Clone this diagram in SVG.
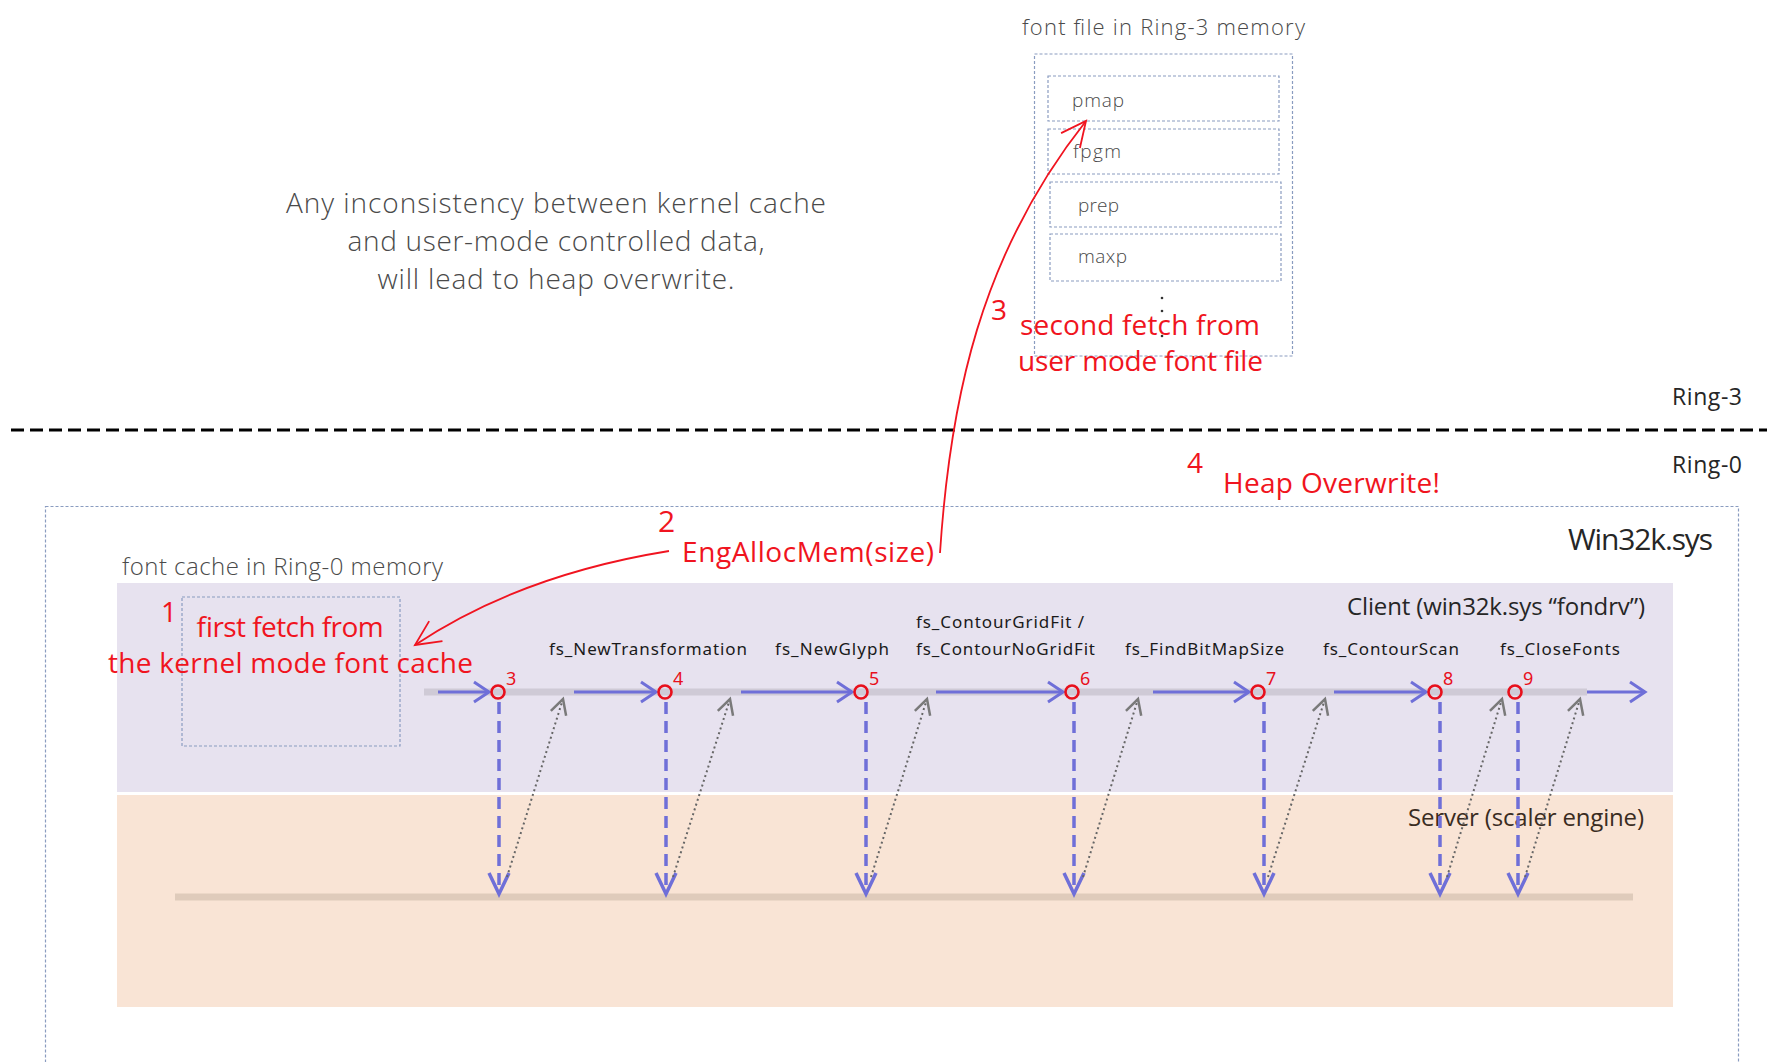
<svg xmlns="http://www.w3.org/2000/svg" width="1767" height="1062" viewBox="0 0 1767 1062">
<defs>
<style>
.box{fill:none;stroke:#8a9cc0;stroke-width:1.2;stroke-dasharray:3 2}
.gray{font-family:"Open Sans","Noto Sans",sans-serif;font-weight:300;fill:#4a4a4a}
.dark{font-family:"Open Sans","Noto Sans",sans-serif;font-weight:400;fill:#262626}
.red{font-family:"Open Sans","Noto Sans",sans-serif;fill:#f01420}
.fs{font-family:"Noto Sans","Open Sans",sans-serif;font-size:17px;fill:#1a1a1a}
.num{font-family:"Noto Sans","Open Sans",sans-serif;font-size:18px;fill:#e8101c}
.tl{stroke:#6f6fd8;stroke-width:3;fill:none}
.vd{stroke:#6f6fd8;stroke-width:3.5;stroke-dasharray:12 7;fill:none}
.dot{stroke:#666;stroke-width:2;stroke-dasharray:2 3;fill:none}
.node{fill:none;stroke:#e8101c;stroke-width:2.6}
.redline{stroke:#f01420;stroke-width:1.8;fill:none}
</style>
<marker id="ab" markerUnits="userSpaceOnUse" markerWidth="30" markerHeight="30" viewBox="-20 -15 30 30" refX="0" refY="0" orient="auto">
<path d="M-15 -10 L0 0 L-15 10" fill="none" stroke="#6f6fd8" stroke-width="3"/>
</marker>
<marker id="av" markerUnits="userSpaceOnUse" markerWidth="30" markerHeight="30" viewBox="-25 -15 30 30" refX="0" refY="0" orient="auto">
<path d="M-21 -10 L0 0 L-21 10" fill="none" stroke="#6f6fd8" stroke-width="3.5"/>
</marker>
<marker id="ag" markerUnits="userSpaceOnUse" markerWidth="30" markerHeight="30" viewBox="-20 -15 30 30" refX="0" refY="0" orient="auto">
<path d="M-15 -8 L0 0 L-15 8" fill="none" stroke="#7a7a7a" stroke-width="2.5"/>
</marker>
<marker id="ar" markerUnits="userSpaceOnUse" markerWidth="40" markerHeight="40" viewBox="-32 -20 40 40" refX="0" refY="0" orient="auto">
<path d="M-25 -12 L0 0 L-25 12" fill="none" stroke="#f01420" stroke-width="1.8"/>
</marker>
</defs>

<rect width="1767" height="1062" fill="#fff"/>

<g id="ring3-file">
<text class="gray" x="1022" y="35" font-size="22" textLength="283">font file in Ring-3 memory</text>
<rect class="box" x="1034.5" y="54" width="258" height="302"/>
<g id="pmap"><rect class="box" x="1048" y="76" width="231" height="45"/><text class="gray" x="1072" y="107" font-size="19" textLength="52">pmap</text></g>
<g id="fpgm"><rect class="box" x="1048" y="129" width="231" height="45"/><text class="gray" x="1073" y="158" font-size="19" textLength="48">fpgm</text></g>
<g id="prep"><rect class="box" x="1050" y="182" width="231" height="45"/><text class="gray" x="1078" y="212" font-size="19" textLength="41">prep</text></g>
<g id="maxp"><rect class="box" x="1050" y="234" width="231" height="47"/><text class="gray" x="1078" y="263" font-size="19" textLength="49">maxp</text></g>
<circle cx="1162" cy="298" r="1.3" fill="#333"/>
<circle cx="1162" cy="311" r="1.3" fill="#333"/>
<circle cx="1162" cy="336" r="1.3" fill="#333"/>
</g>

<g id="note">
<text class="gray" x="556" y="213" font-size="28" text-anchor="middle" textLength="540">Any inconsistency between kernel cache</text>
<text class="gray" x="556" y="251" font-size="28" text-anchor="middle" textLength="417">and user-mode controlled data,</text>
<text class="gray" x="556" y="289" font-size="28" text-anchor="middle" textLength="357">will lead to heap overwrite.</text>
</g>

<g id="ring-boundary">
<line x1="11" y1="430" x2="1767" y2="430" stroke="#000" stroke-width="3" stroke-dasharray="13 6"/>
<text class="dark" x="1672" y="405" font-size="23" textLength="70">Ring-3</text>
<text class="dark" x="1672" y="473" font-size="23" textLength="70">Ring-0</text>
</g>

<g id="win32k">
<rect class="box" x="45.5" y="506.5" width="1693" height="600"/>
<text class="dark" x="1568" y="550" font-size="30" textLength="145">Win32k.sys</text>
</g>

<g id="client">
<rect x="117" y="583" width="1556" height="209" fill="#e7e2ef"/>
<text class="dark" x="1347" y="615" font-size="24" textLength="298">Client (win32k.sys “fondrv”)</text>
<line x1="424" y1="692" x2="1587" y2="692" stroke="#cfcad6" stroke-width="7"/>
</g>

<g id="server">
<rect x="117" y="795" width="1556" height="212" fill="#f9e4d5"/>
<text class="dark" x="1408" y="826" font-size="24" style="fill:#3a2c22" textLength="236">Server (scaler engine)</text>
<line x1="175" y1="897" x2="1633" y2="897" stroke="#dfcbbb" stroke-width="7"/>
</g>

<g id="font-cache">
<text class="gray" x="122" y="575" font-size="24" textLength="321">font cache in Ring-0 memory</text>
<rect class="box" x="182" y="597" width="218" height="149"/>
</g>

<g id="labels">
<text class="fs" x="549" y="655" textLength="198">fs_NewTransformation</text>
<text class="fs" x="775" y="655" textLength="114">fs_NewGlyph</text>
<text class="fs" x="916" y="628" textLength="168">fs_ContourGridFit /</text>
<text class="fs" x="916" y="655" textLength="179">fs_ContourNoGridFit</text>
<text class="fs" x="1125" y="655" textLength="159">fs_FindBitMapSize</text>
<text class="fs" x="1323" y="655" textLength="136">fs_ContourScan</text>
<text class="fs" x="1500" y="655" textLength="120">fs_CloseFonts</text>
</g>

<g id="connectors">
<line class="tl" x1="438" y1="692" x2="489" y2="692" marker-end="url(#ab)"/>
<line class="tl" x1="574" y1="692" x2="656" y2="692" marker-end="url(#ab)"/>
<line class="tl" x1="741" y1="692" x2="852" y2="692" marker-end="url(#ab)"/>
<line class="tl" x1="936" y1="692" x2="1063" y2="692" marker-end="url(#ab)"/>
<line class="tl" x1="1153" y1="692" x2="1249" y2="692" marker-end="url(#ab)"/>
<line class="tl" x1="1334" y1="692" x2="1426" y2="692" marker-end="url(#ab)"/>
<line class="tl" x1="1587" y1="692" x2="1645" y2="692" marker-end="url(#ab)"/>

<line class="vd" x1="499" y1="702" x2="499" y2="894" marker-end="url(#av)"/>
<line class="vd" x1="666" y1="702" x2="666" y2="894" marker-end="url(#av)"/>
<line class="vd" x1="866" y1="702" x2="866" y2="894" marker-end="url(#av)"/>
<line class="vd" x1="1074" y1="702" x2="1074" y2="894" marker-end="url(#av)"/>
<line class="vd" x1="1264" y1="702" x2="1264" y2="894" marker-end="url(#av)"/>
<line class="vd" x1="1440" y1="702" x2="1440" y2="894" marker-end="url(#av)"/>
<line class="vd" x1="1518" y1="702" x2="1518" y2="894" marker-end="url(#av)"/>

<line class="dot" x1="507" y1="877" x2="563" y2="699" marker-end="url(#ag)"/>
<line class="dot" x1="673" y1="877" x2="730" y2="699" marker-end="url(#ag)"/>
<line class="dot" x1="871" y1="877" x2="927" y2="699" marker-end="url(#ag)"/>
<line class="dot" x1="1083" y1="877" x2="1138" y2="699" marker-end="url(#ag)"/>
<line class="dot" x1="1268" y1="877" x2="1325" y2="699" marker-end="url(#ag)"/>
<line class="dot" x1="1447" y1="877" x2="1502" y2="699" marker-end="url(#ag)"/>
<line class="dot" x1="1525" y1="877" x2="1580" y2="699" marker-end="url(#ag)"/>

<path class="redline" d="M669 551 Q520 575 415 645" marker-end="url(#ar)"/>
<path class="redline" d="M940 553 C950 400 980 255 1086 121" marker-end="url(#ar)"/>
</g>

<g id="nodes">
<g id="n3"><circle class="node" cx="498" cy="692" r="6.5"/><text class="num" x="506" y="685">3</text></g>
<g id="n4"><circle class="node" cx="665" cy="692" r="6.5"/><text class="num" x="673" y="685">4</text></g>
<g id="n5"><circle class="node" cx="861" cy="692" r="6.5"/><text class="num" x="869" y="685">5</text></g>
<g id="n6"><circle class="node" cx="1072" cy="692" r="6.5"/><text class="num" x="1080" y="685">6</text></g>
<g id="n7"><circle class="node" cx="1258" cy="692" r="6.5"/><text class="num" x="1266" y="685">7</text></g>
<g id="n8"><circle class="node" cx="1435" cy="692" r="6.5"/><text class="num" x="1443" y="685">8</text></g>
<g id="n9"><circle class="node" cx="1515" cy="692" r="6.5"/><text class="num" x="1523" y="685">9</text></g>
</g>

<g id="annotations">
<text class="red" x="161" y="622" font-size="28">1</text>
<text class="red" x="196" y="637" font-size="28" textLength="187">first fetch from</text>
<text class="red" x="108" y="673" font-size="28" textLength="365">the kernel mode font cache</text>
<text class="red" x="658" y="532" font-size="30">2</text>
<text class="red" x="682" y="562" font-size="28" textLength="252">EngAllocMem(size)</text>
<text class="red" x="991" y="320" font-size="28">3</text>
<text class="red" x="1020" y="335" font-size="28" textLength="240">second fetch from</text>
<text class="red" x="1018" y="371" font-size="28" textLength="245">user mode font file</text>
<text class="red" x="1187" y="473" font-size="28">4</text>
<text class="red" x="1223" y="493" font-size="28" textLength="217">Heap Overwrite!</text>
</g>
</svg>
